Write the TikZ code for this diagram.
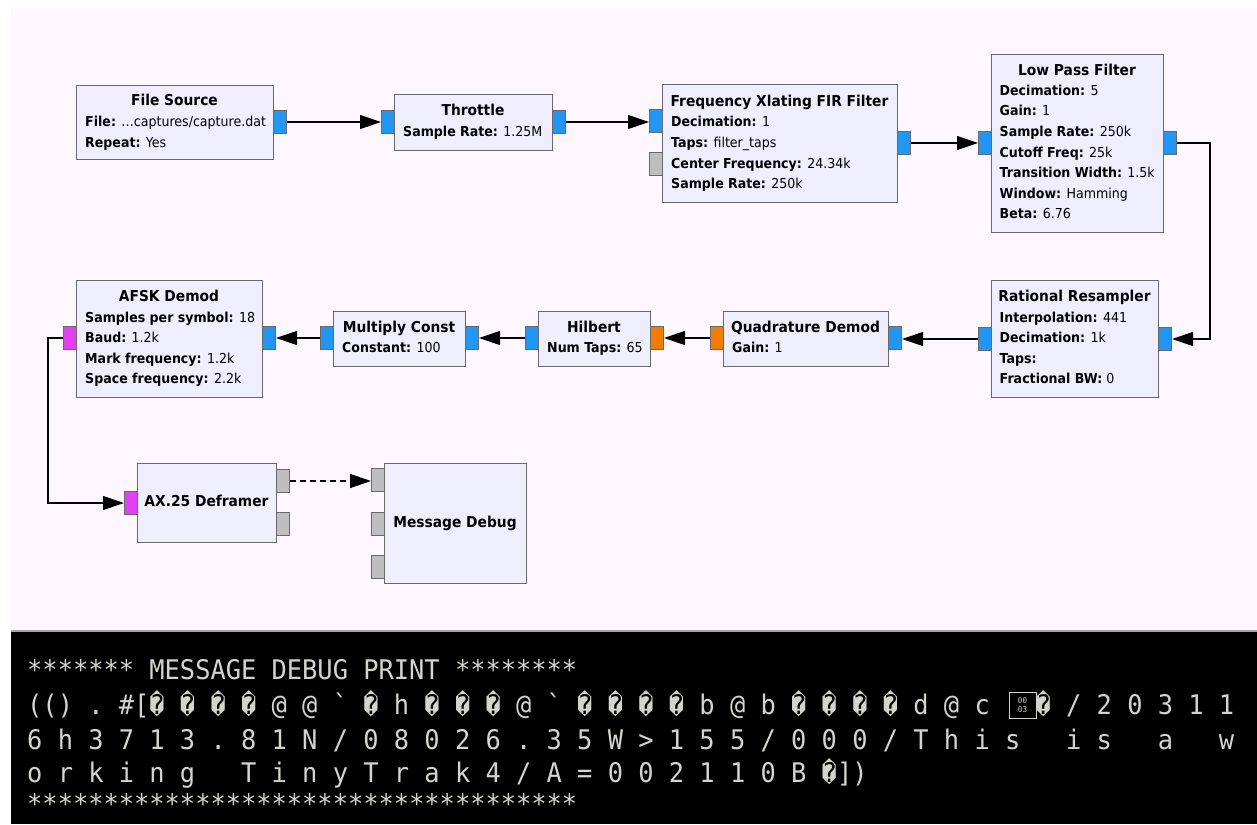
\documentclass[tikz,border=0pt]{standalone}
\usepackage{fontspec}
\setmainfont{DejaVu Sans}[FakeStretch=0.92]
\newfontfamily\termfont[FakeStretch=0.94,Ligatures=TeXOff]{DejaVu Sans Mono}
\usetikzlibrary{arrows.meta}
\definecolor{bgpink}{RGB}{255,247,255}
\definecolor{blkfill}{RGB}{238,238,254}
\definecolor{blkline}{RGB}{105,105,105}
\definecolor{pblue}{RGB}{33,150,243}
\definecolor{porange}{RGB}{245,124,0}
\definecolor{pmag}{RGB}{226,64,240}
\definecolor{pgray}{RGB}{190,190,190}
\definecolor{termtxt}{RGB}{212,212,206}
\definecolor{sepgray}{RGB}{165,165,165}
\newcommand\rc{^^^^fffd}
\begin{document}
\begin{tikzpicture}[x=1pt,y=-1pt,
 blk/.style={draw=blkline, fill=blkfill, line width=1.2pt, inner sep=0pt, anchor=north west},
 port/.style={draw=blkline, line width=1pt, inner sep=0pt, minimum width=13pt, minimum height=23pt, anchor=north west},
 ttl/.style={font=\fontsize{15}{17}\selectfont\bfseries, inner sep=0pt, anchor=base},
 prm/.style={font=\fontsize{13.7}{16}\selectfont, inner sep=0pt, anchor=base west},
 wire/.style={line width=1.2pt, -{Triangle[length=21pt,width=14pt]}},
 term/.style={font=\termfont\fontsize{27}{30}\selectfont, text=termtxt, inner sep=0pt, anchor=base west},
]
\useasboundingbox (0,0) rectangle (1257,824);
\fill[white] (0,0) rectangle (1257,824);
\fill[bgpink] (11,8) rectangle (1257,630);
\fill[black] (11,632) rectangle (1257,824);
\draw[sepgray, line width=1.5pt] (11,631) -- (1257,631);

% ---------- blocks ----------
\node[blk, minimum width=197pt, minimum height=74pt] (fs) at (76,85) {};
\node[ttl] (fs-t) at (174.5,105.5) {File Source};
\node[prm] (fs-p1) at (85,126) {\textbf{File:} …captures/capture.dat};
\node[prm] (fs-p2) at (85,147) {\textbf{Repeat:} Yes};

\node[blk, minimum width=158pt, minimum height=56pt] (thr) at (394,94) {};
\node[ttl] (thr-t) at (473,115.5) {Throttle};
\node[prm] (thr-p1) at (403,136) {\textbf{Sample Rate:} 1.25M};

\node[blk, minimum width=235pt, minimum height=118pt] (xl) at (662,84) {};
\node[ttl] (xl-t) at (779.5,106.2) {Frequency Xlating FIR Filter};
\node[prm] (xl-p1) at (671,126.7) {\textbf{Decimation:} 1};
\node[prm] (xl-p2) at (671,147.4) {\textbf{Taps:} filter\_taps};
\node[prm] (xl-p3) at (671,168) {\textbf{Center Frequency:} 24.34k};
\node[prm] (xl-p4) at (671,188.4) {\textbf{Sample Rate:} 250k};

\node[blk, minimum width=172pt, minimum height=178pt] (lpf) at (991,54) {};
\node[ttl] (lpf-t) at (1077,75.5) {Low Pass Filter};
\node[prm] (lpf-p1) at (999.5,95.7) {\textbf{Decimation:} 5};
\node[prm] (lpf-p2) at (999.5,116) {\textbf{Gain:} 1};
\node[prm] (lpf-p3) at (999.5,136.7) {\textbf{Sample Rate:} 250k};
\node[prm] (lpf-p4) at (999.5,157) {\textbf{Cutoff Freq:} 25k};
\node[prm] (lpf-p5) at (999.5,177.4) {\textbf{Transition Width:} 1.5k};
\node[prm] (lpf-p6) at (999.5,198) {\textbf{Window:} Hamming};
\node[prm] (lpf-p7) at (999.5,218.4) {\textbf{Beta:} 6.76};

\node[blk, minimum width=167pt, minimum height=117pt] (rr) at (991,280) {};
\node[ttl] (rr-t) at (1074.5,301.5) {Rational Resampler};
\node[prm] (rr-p1) at (999.5,322) {\textbf{Interpolation:} 441};
\node[prm] (rr-p2) at (999.5,342.4) {\textbf{Decimation:} 1k};
\node[prm] (rr-p3) at (999.5,363) {\textbf{Taps:}};
\node[prm] (rr-p4) at (999.5,383) {\textbf{Fractional BW:} 0};

\node[blk, minimum width=165pt, minimum height=55pt] (qd) at (723,311) {};
\node[ttl] (qd-t) at (805.5,332.5) {Quadrature Demod};
\node[prm] (qd-p1) at (732,352) {\textbf{Gain:} 1};

\node[blk, minimum width=112pt, minimum height=55pt] (hil) at (538,311) {};
\node[ttl] (hil-t) at (594,332.5) {Hilbert};
\node[prm] (hil-p1) at (547,352) {\textbf{Num Taps:} 65};

\node[blk, minimum width=132pt, minimum height=55pt] (mc) at (333,311) {};
\node[ttl] (mc-t) at (399,332.5) {Multiply Const};
\node[prm] (mc-p1) at (342,352.4) {\textbf{Constant:} 100};

\node[blk, minimum width=186pt, minimum height=117pt] (afsk) at (76,280) {};
\node[ttl] (afsk-t) at (169,301.2) {AFSK Demod};
\node[prm] (afsk-p1) at (85,322.3) {\textbf{Samples per symbol:} 18};
\node[prm] (afsk-p2) at (85,342.7) {\textbf{Baud:} 1.2k};
\node[prm] (afsk-p3) at (85,363) {\textbf{Mark frequency:} 1.2k};
\node[prm] (afsk-p4) at (85,383) {\textbf{Space frequency:} 2.2k};

\node[blk, minimum width=139pt, minimum height=79pt] (ax) at (137,463) {};
\node[ttl] (ax-t) at (206.5,506.5) {AX.25 Deframer};

\node[blk, minimum width=142pt, minimum height=120pt] (md) at (384,463) {};
\node[ttl] (md-t) at (455,527.2) {Message Debug};

% ---------- ports ----------
\node[port, fill=pblue] (fs-o) at (273,110) {};
\node[port, fill=pblue] (thr-i) at (381,110) {};
\node[port, fill=pblue] (thr-o) at (552,110) {};
\node[port, fill=pblue] (xl-i) at (649,109) {};
\node[port, fill=pgray] (xl-m) at (649,152) {};
\node[port, fill=pblue] (xl-o) at (897,131) {};
\node[port, fill=pblue] (lpf-i) at (978,131) {};
\node[port, fill=pblue] (lpf-o) at (1163,131) {};
\node[port, fill=pblue] (rr-i) at (1158,327) {};
\node[port, fill=pblue] (rr-o) at (978,327) {};
\node[port, fill=pblue] (qd-i) at (888,326) {};
\node[port, fill=porange] (qd-o) at (710,326) {};
\node[port, fill=porange] (hil-i) at (650,326) {};
\node[port, fill=pblue] (hil-o) at (525,326) {};
\node[port, fill=pblue] (mc-i) at (465,326) {};
\node[port, fill=pblue] (mc-o) at (320,326) {};
\node[port, fill=pblue] (afsk-i) at (262,326) {};
\node[port, fill=pmag] (afsk-o) at (63,326) {};
\node[port, fill=pmag] (ax-i) at (124,491) {};
\node[port, fill=pgray] (ax-o1) at (276,469) {};
\node[port, fill=pgray] (ax-o2) at (276,512) {};
\node[port, fill=pgray] (md-i1) at (371,468) {};
\node[port, fill=pgray] (md-i2) at (371,512) {};
\node[port, fill=pgray] (md-i3) at (371,555) {};

% ---------- connections ----------
\draw[wire] (fs-o.east) -- (thr-i.west);
\draw[wire] (thr-o.east) -- (thr-o.east -| xl-i.west);
\draw[wire] (xl-o.east) -- (lpf-i.west);
\draw[wire] (lpf-o.east) -- ++(33,0) |- (rr-i.east);
\draw[wire] (rr-o.west) -- (rr-o.west -| qd-i.east);
\draw[wire] (qd-o.west) -- (hil-i.east);
\draw[wire] (hil-o.west) -- (mc-i.east);
\draw[wire] (mc-o.west) -- (afsk-i.east);
\draw[wire] (afsk-o.west) -- ++(-15,0) |- (ax-i.west);
\draw[wire, dash pattern=on 6pt off 4pt] (ax-o1.east) -- (ax-o1.east -| md-i1.west);

% ---------- terminal ----------
\node[term] (t1) at (27,679) {*******~MESSAGE~DEBUG~PRINT~********};
\node[term] (t2) at (27,714) {(()~.~\#[\rc~\rc~\rc~\rc~@~@~`~\rc~h~\rc~\rc~\rc~@~`~\rc~\rc~\rc~\rc~b~@~b~\rc~\rc~\rc~\rc~d~@~c~~~\rc~/~2~0~3~1~1};
\node[term] (t3) at (27,749) {6~h~3~7~1~3~.~8~1~N~/~0~8~0~2~6~.~3~5~W~>~1~5~5~/~0~0~0~/~T~h~i~s~~~i~s~~~a~~~w};
\node[term] (t4) at (27,782) {o~r~k~i~n~g~~~T~i~n~y~T~r~a~k~4~/~A~=~0~0~2~1~1~0~B~\rc])};
\node[term] (t5) at (27,813) {************************************};
\node[draw=termtxt, line width=1pt, minimum width=27pt, minimum height=26pt, inner sep=0pt] (hexbox) at (1022.5,705) {};
\node[font=\termfont\fontsize{8}{9}\selectfont, text=termtxt, inner sep=0pt, align=center] (hexbox-t) at (hexbox.center) {00\\03};
\end{tikzpicture}
\end{document}
